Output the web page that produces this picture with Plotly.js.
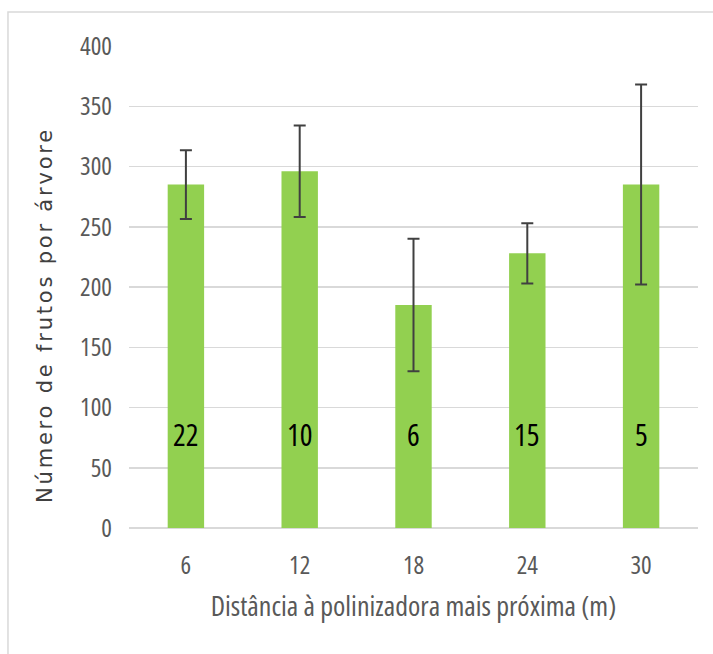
<!DOCTYPE html>
<html>
<head>
<meta charset="utf-8">
<script src="https://cdn.plot.ly/plotly-3.0.1.min.js"></script>
<style>
html,body{margin:0;padding:0;background:#fff;}
#chart{width:713px;height:654px;}
text:not([style*="Verdana"]){font-stretch:condensed !important;}
text[style*="Verdana"]{letter-spacing:2.8px;}
</style>
</head>
<body>
<div id="chart"></div>
<script>
const distances = ['6', '12', '18', '24', '30'];
const meanFruits = [285, 296, 185, 228, 285];
const errorBars = [28.5, 38, 55, 25, 83];
const treeCounts = ['22', '10', '6', '15', '5'];
const countLabelY = 78;

const FONT = '"Open Sans", "DejaVu Sans Condensed", sans-serif';

const trace = {
  type: 'bar',
  x: distances,
  y: meanFruits,
  marker: {color: '#92d050'},
  error_y: {type: 'data', array: errorBars, visible: true, color: '#404040', thickness: 2, width: 6},
  hoverinfo: 'x+y',
  showlegend: false
};

const annotations = distances.map((d, i) => ({
  x: i, y: countLabelY, xref: 'x', yref: 'y',
  text: treeCounts[i], showarrow: false,
  font: {family: FONT, size: 30, color: '#000000'},
  xanchor: 'center', yanchor: 'middle'
}));

annotations.push({
  xref: 'paper', yref: 'paper',
  x: -0.1476, y: 0.442,
  text: 'Número de frutos por árvore',
  textangle: -90, showarrow: false,
  font: {family: 'Verdana, "DejaVu Sans", sans-serif', size: 21, color: '#404040'},
  xanchor: 'center', yanchor: 'middle'
});

const layout = {
  width: 713, height: 654,
  margin: {l: 129, r: 15, t: 46, b: 126},
  paper_bgcolor: '#ffffff', plot_bgcolor: '#ffffff',
  bargap: 0.68,
  xaxis: {
    type: 'category', range: [-0.5, distances.length - 0.5], autorange: false,
    showgrid: false, zeroline: false, showline: false,
    ticks: '', ticklabelstandoff: 20,
    tickfont: {family: FONT, size: 25, color: '#595959'},
    title: {text: 'Distância à polinizadora mais próxima (m)', standoff: 16,
            font: {family: FONT, size: 28, color: '#595959'}}
  },
  yaxis: {
    range: [0, 400], autorange: false, dtick: 50, tick0: 0,
    showgrid: true, gridcolor: '#d9d9d9', gridwidth: 1.5,
    zeroline: true, zerolinecolor: '#d9d9d9', zerolinewidth: 1.5,
    showline: false, ticks: '', ticklabelstandoff: 16,
    tickfont: {family: FONT, size: 25, color: '#595959'}
  },
  annotations: annotations,
  shapes: [{
    type: 'rect', xref: 'paper', yref: 'paper',
    x0: -0.2127, x1: 1.06, y0: -0.28, y1: 1.0705,
    line: {color: '#d9d9d9', width: 1.5}, fillcolor: 'rgba(0,0,0,0)', layer: 'below'
  }]
};

Plotly.newPlot('chart', [trace], layout, {displayModeBar: false, staticPlot: true});
</script>
</body>
</html>
